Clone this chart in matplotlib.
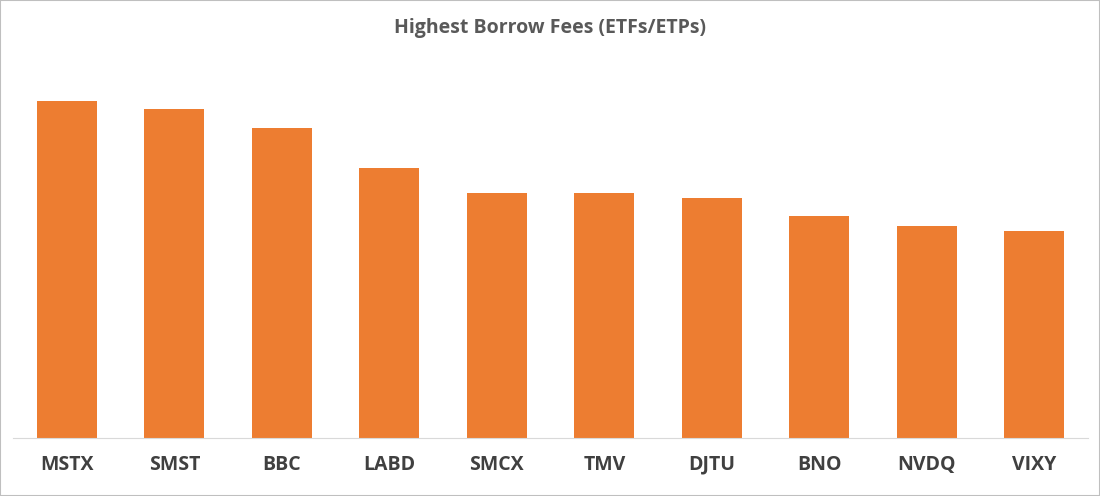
import matplotlib
matplotlib.use("Agg")
import matplotlib.pyplot as plt
from matplotlib.patches import Rectangle

tickers = ["MSTX", "SMST", "BBC", "LABD", "SMCX", "TMV", "DJTU", "BNO", "NVDQ", "VIXY"]
fees = [337, 329, 310, 270, 245, 245, 240, 222, 212, 207]

fig = plt.figure(figsize=(11, 4.96), dpi=100)
ax = fig.add_axes([13/1100, 58/496, 1075/1100, 378/496])
x = list(range(len(tickers)))
ax.bar(x, fees, width=0.56, color="#ED7D31")
ax.set_xlim(-0.5, len(tickers) - 0.5)
ax.set_ylim(0, 378)
ax.set_xticks(x)
ax.set_xticklabels(tickers, fontsize=14, fontweight="bold", color="#404040", family="Open Sans")
ax.tick_params(axis="x", length=0, pad=12)
ax.set_yticks([])
for s in ["top", "right", "left"]:
    ax.spines[s].set_visible(False)
ax.spines["bottom"].set_color("#D9D9D9")
fig.text(0.5, 1 - 28/496, "Highest Borrow Fees (ETFs/ETPs)", ha="center", va="center",
         fontsize=14, fontweight="bold", color="#595959", family="Open Sans")
fig.patches.append(Rectangle((0, 0), 1, 1, transform=fig.transFigure, fill=False,
                             edgecolor="#BFBFBF", linewidth=1.5))
fig.savefig("out.png", dpi=100)
